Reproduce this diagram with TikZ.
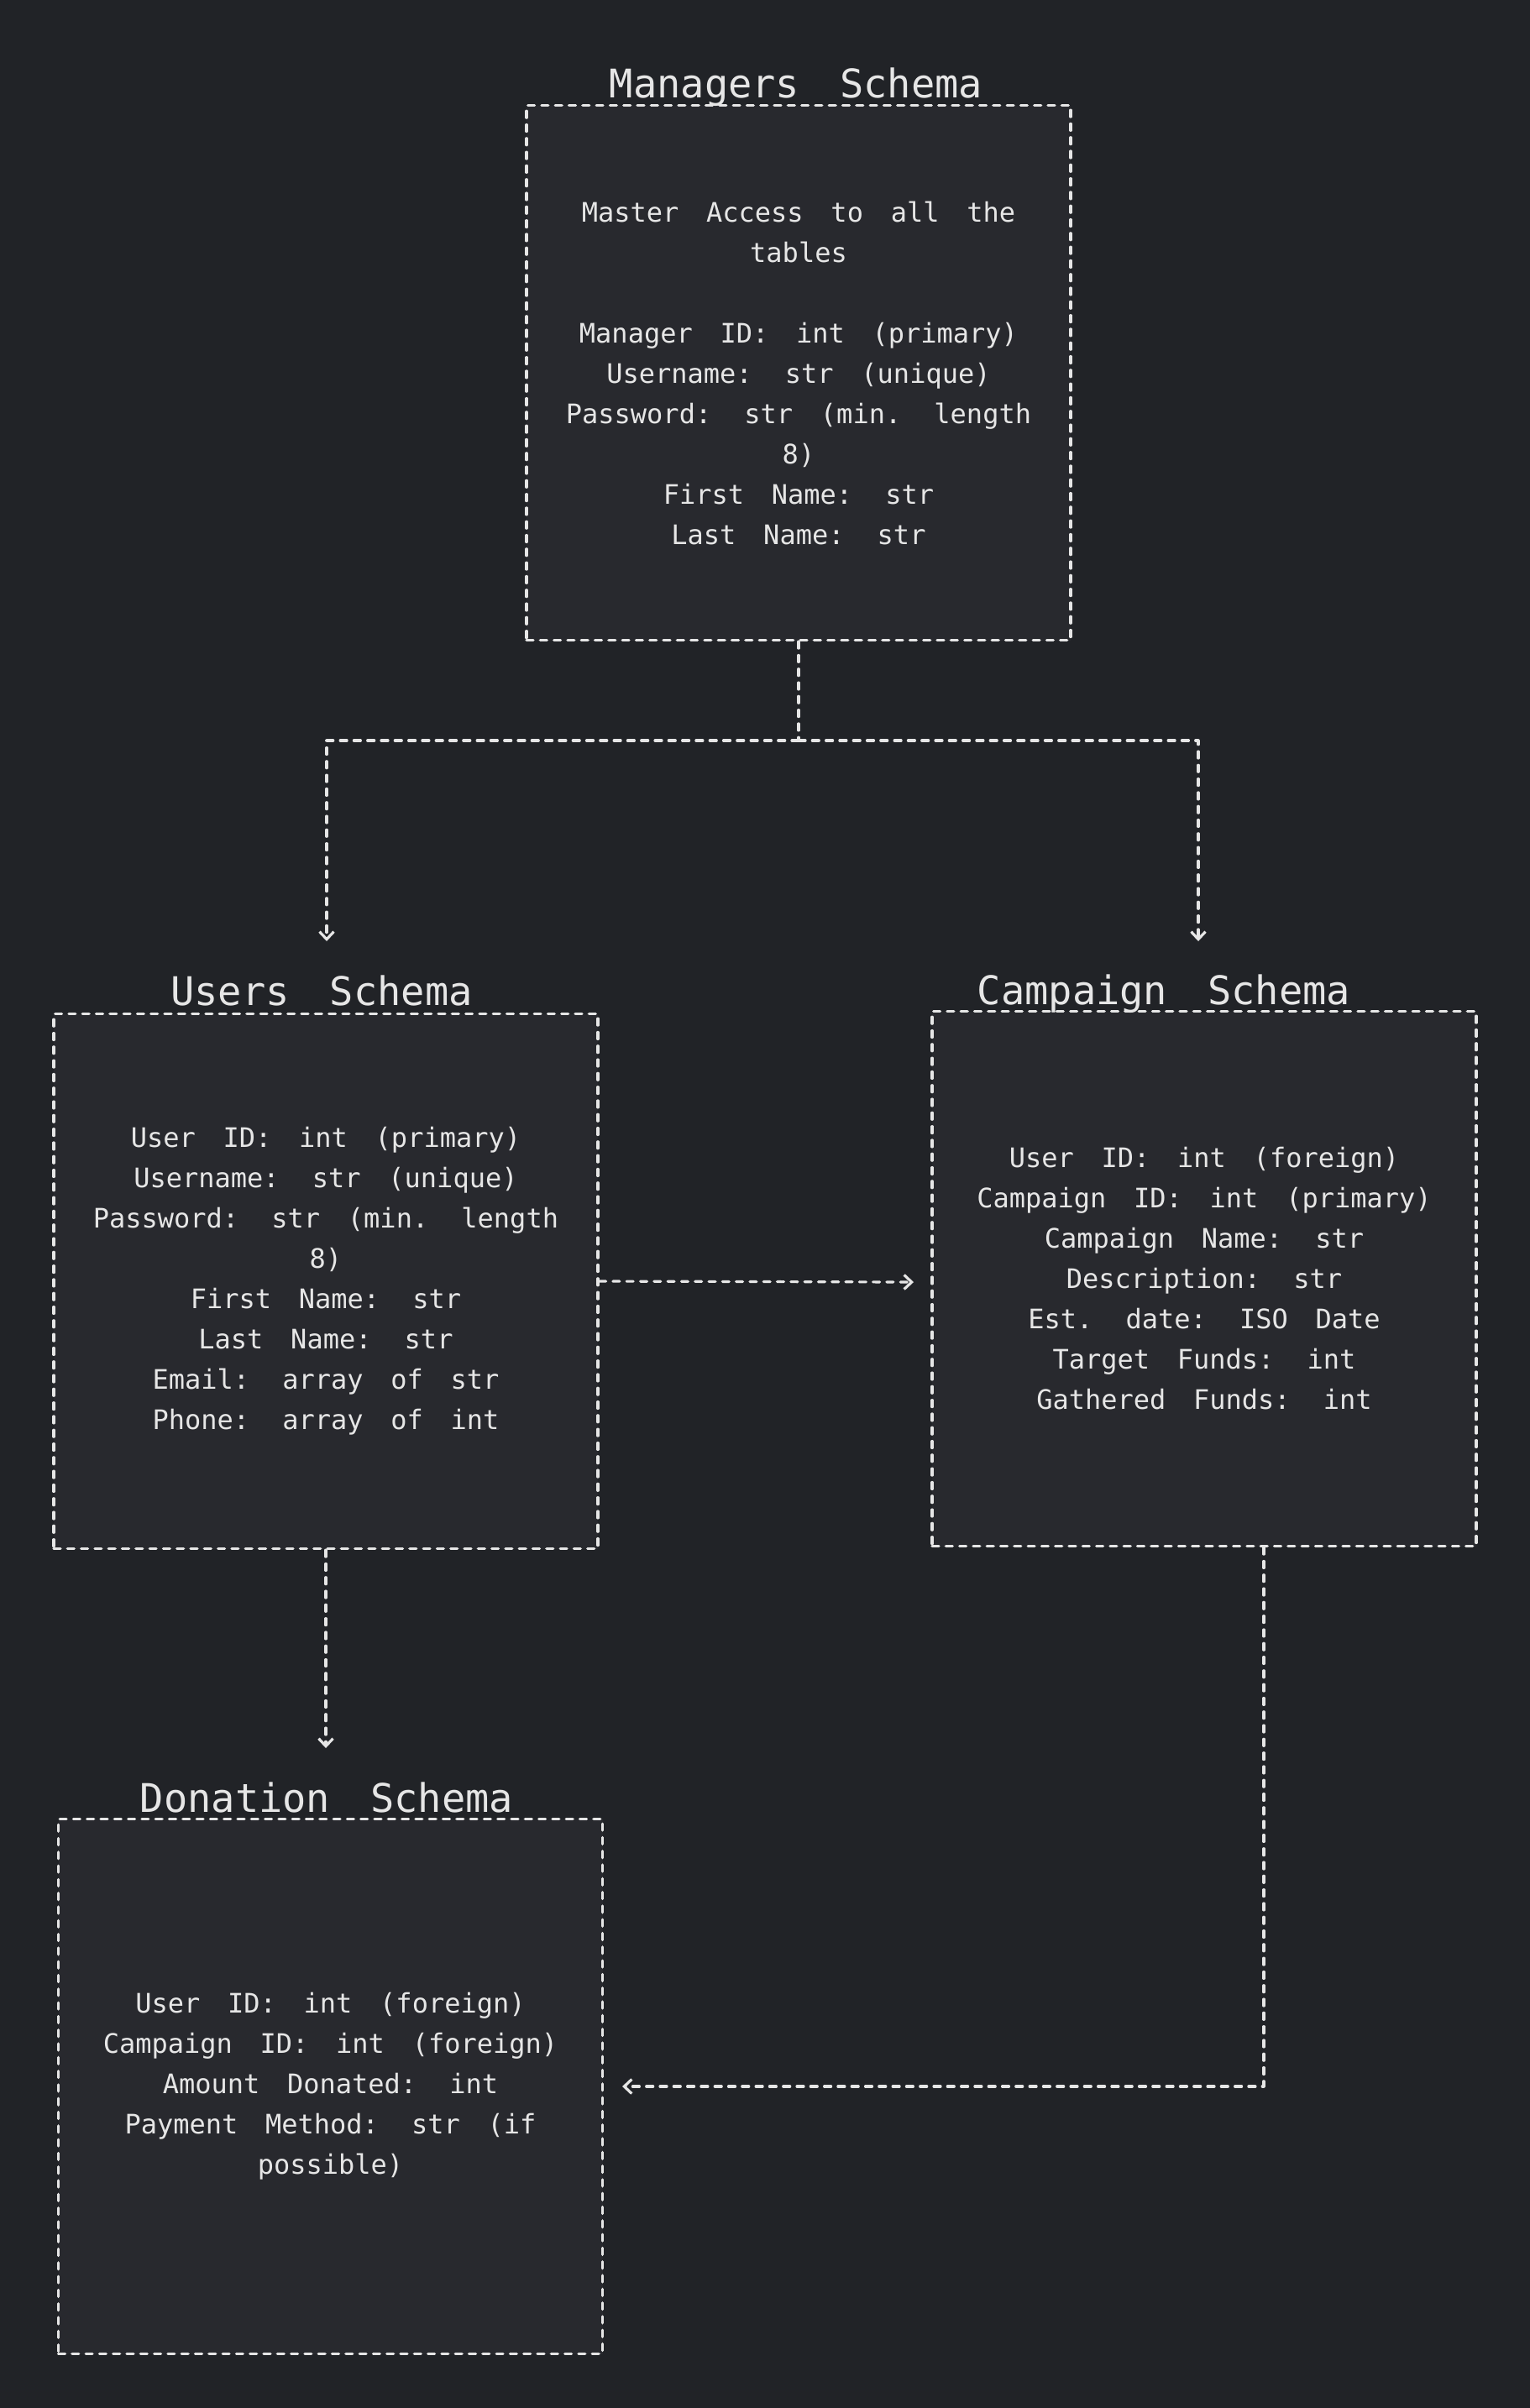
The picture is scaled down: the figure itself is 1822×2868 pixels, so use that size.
\documentclass[tikz,border=0pt]{standalone}
\usepackage{fontspec}
\usetikzlibrary{arrows.meta}
\newfontfamily\codefont[WordSpace=1.7]{DejaVu Sans Mono}
\definecolor{canvas}{RGB}{33,35,39}
\definecolor{panel}{RGB}{40,41,46}
\definecolor{ink}{RGB}{230,230,230}

\begin{document}
\begin{tikzpicture}[x=1pt,y=-1pt,
  dashline/.style={draw=ink, line width=3.2pt, dash pattern=on 8pt off 8.3pt,
    line cap=round, line join=round},
  schemabox/.style={dashline, fill=panel, minimum width=648pt, minimum height=637pt,
    inner sep=0pt, align=center, text=ink,
    font=\codefont\fontsize{32}{48}\selectfont},
  schematitle/.style={anchor=base, text=ink, inner sep=0pt,
    font=\codefont\fontsize{47}{56}\selectfont},
  link/.style={dashline},
  arrowed/.style={dashline, -{Straight Barb[length=9pt,width=17pt,line width=3.2pt]}}
]
% canvas
\fill[canvas] (0,0) rectangle (1822,2868);
\useasboundingbox (0,0) rectangle (1822,2868);

% schema boxes
\node[schemabox] (mgr) at (951,444) {Master Access to all the\\tables\\[48pt]
  Manager ID: int (primary)\\Username: str (unique)\\Password: str (min. length\\8)\\
  First Name: str\\Last Name: str};

\node[schemabox] (users) at (388,1526) {User ID: int (primary)\\Username: str (unique)\\
  Password: str (min. length\\8)\\First Name: str\\Last Name: str\\
  Email: array of str\\Phone: array of int};

\node[schemabox] (camp) at (1434,1523) {User ID: int (foreign)\\Campaign ID: int (primary)\\
  Campaign Name: str\\Description: str\\Est. date: ISO Date\\
  Target Funds: int\\Gathered Funds: int};

\node[schemabox] (don) at (393.5,2485) {User ID: int (foreign)\\Campaign ID: int (foreign)\\
  Amount Donated: int\\Payment Method: str (if\\possible)};

% titles
\node[schematitle] (mgrT) at (948,116) {Managers Schema};
\node[schematitle] (usersT) at (383,1197) {Users Schema};
\node[schematitle] (campT) at (1386,1196) {Campaign Schema};
\node[schematitle] (donT) at (389,2158) {Donation Schema};

% connector end points
\coordinate (fork) at (951,882);
\coordinate (usersIn) at (389,1121);
\coordinate (campIn) at (1427,1121);
\coordinate (campSide) at (1088,1527);
\coordinate (donTop) at (388,2082);
\coordinate (bend) at (1505,2485);
\coordinate (donSide) at (741,2485);

% connectors
\draw[link] (mgr.south) -- (fork);
\draw[arrowed] (fork) -| (usersIn);
\draw[arrowed] (fork) -| (campIn);
\draw[arrowed] (users.east) -- (campSide);
\draw[arrowed] (users.south) -- (donTop);
\draw[arrowed] (camp.south -| bend) -- (bend) -- (donSide);
\end{tikzpicture}
\end{document}
